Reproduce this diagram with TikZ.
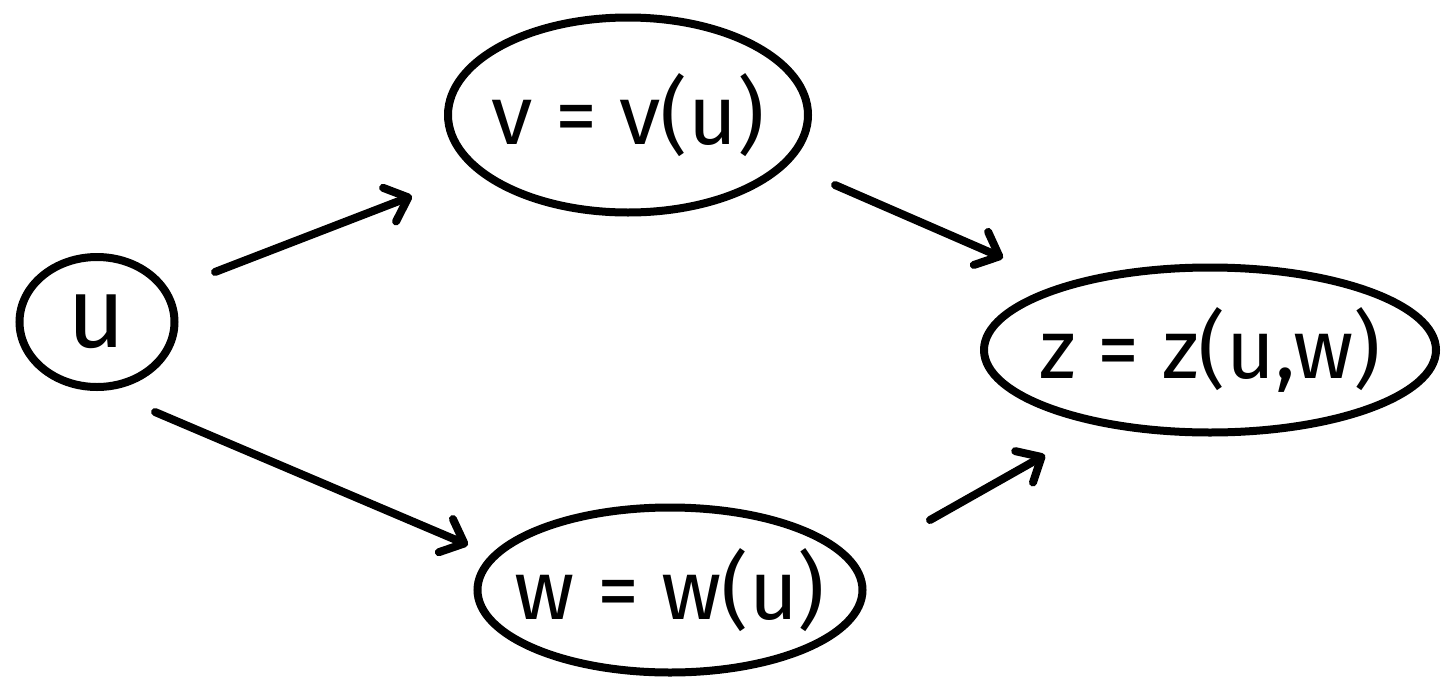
\documentclass[tikz,border=0pt]{standalone}
\usepackage{fontspec}
\setmainfont{Fira Sans}
\usetikzlibrary{shapes.geometric,arrows.meta,calc}
\begin{document}
\begin{tikzpicture}[x=1pt,y=-1pt,
  blob/.style={draw,ellipse,line width=8pt,inner sep=-40pt,font=\fontsize{84}{90}\selectfont},
  link/.style={line width=8pt,line cap=round,-{Straight Barb[length=20pt,width=36pt,line width=8pt,round]}}]
\useasboundingbox (0,0) rectangle (1443,683);
\node[blob,minimum width=155pt,minimum height=130pt,font=\fontsize{100}{100}\selectfont] (u) at (97,322) {u};
\node[blob,minimum width=360pt,minimum height=195pt] (v) at (628,115) {v = v(u)};
\node[blob,minimum width=452pt,minimum height=165pt] (z) at (1210,350) {z = z(u,w)};
\node[blob,minimum width=385pt,minimum height=165pt] (w) at (670,590) {w = w(u)};
\coordinate (a1) at ($(u)+(118,-50)$); \coordinate (a2) at ($(v)+(-216,81)$);
\coordinate (b1) at ($(u)+(58,90)$); \coordinate (b2) at ($(w)+(-202,-45)$);
\coordinate (c1) at ($(v)+(207,70)$); \coordinate (c2) at ($(z)+(-207,-92)$);
\coordinate (d1) at ($(w)+(260,-70)$); \coordinate (d2) at ($(z)+(-165,105)$);
\draw[link] (a1) -- (a2);
\draw[link] (b1) -- (b2);
\draw[link] (c1) -- (c2);
\draw[link] (d1) -- (d2);
\end{tikzpicture}
\end{document}
